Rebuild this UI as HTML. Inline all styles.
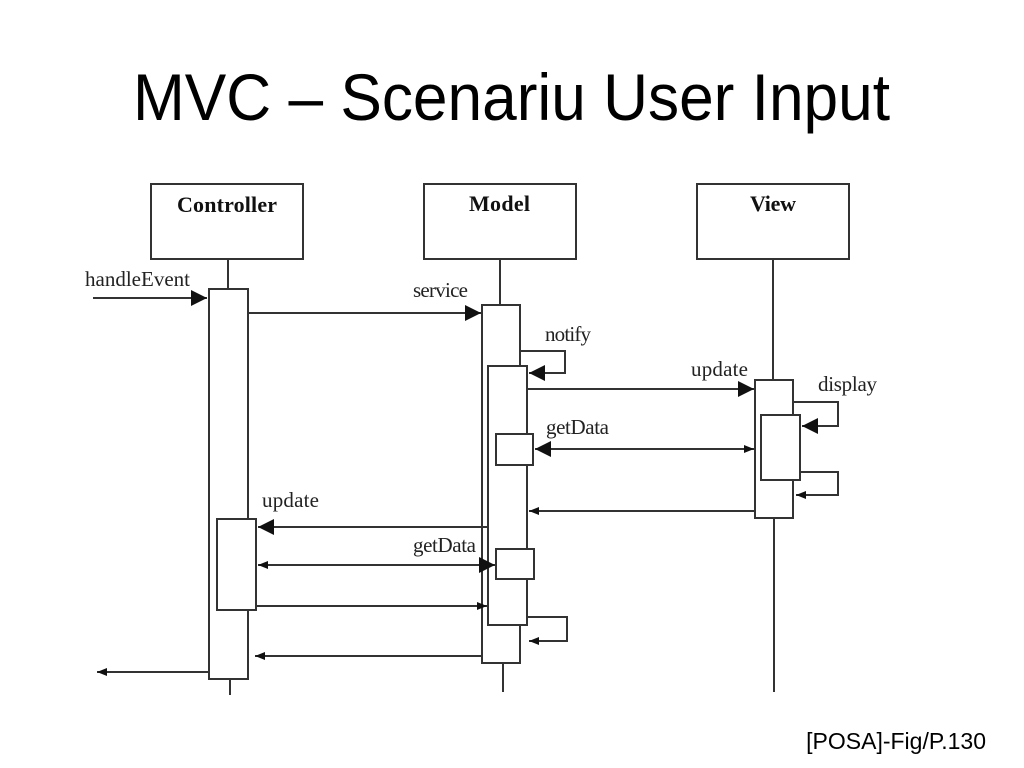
<!DOCTYPE html>
<html><head><meta charset="utf-8"><style>
html,body{margin:0;padding:0;background:#fff;}
svg{display:block;}
</style></head><body>
<svg width="1024" height="768" viewBox="0 0 1024 768" xmlns="http://www.w3.org/2000/svg">
<defs>
<marker id="a" viewBox="0 0 10 10" refX="10" refY="5" markerWidth="10" markerHeight="10" markerUnits="userSpaceOnUse" orient="auto"><path d="M0,1 L10,5 L0,9 z" fill="#111"/></marker>
<marker id="b" viewBox="0 0 10 10" refX="10" refY="5" markerWidth="20" markerHeight="16" markerUnits="userSpaceOnUse" orient="auto"><path d="M0,0 L10,5 L0,10 z" fill="#111"/></marker>
</defs>
<text x="133" y="120" font-family="Liberation Sans, Arial, sans-serif" font-size="66" textLength="757" lengthAdjust="spacingAndGlyphs">MVC – Scenariu User Input</text>
<text x="986" y="749" font-family="Liberation Sans, Arial, sans-serif" font-size="23" text-anchor="end">[POSA]-Fig/P.130</text>
<g fill="none" stroke="#333" stroke-width="2">
<rect x="151" y="184" width="152" height="75"/>
<rect x="424" y="184" width="152" height="75"/>
<rect x="697" y="184" width="152" height="75"/>
<line x1="228" y1="259" x2="228" y2="290"/>
<line x1="230" y1="680" x2="230" y2="695"/>
<line x1="500" y1="259" x2="500" y2="305"/>
<line x1="503" y1="663" x2="503" y2="692"/>
<line x1="773" y1="259" x2="773" y2="380"/>
<line x1="774" y1="518" x2="774" y2="692"/>
</g>
<g fill="#fff" stroke="#333" stroke-width="2">
<rect x="209" y="289" width="39" height="390"/>
<rect x="217" y="519" width="39" height="91"/>
<rect x="482" y="305" width="38" height="358"/>
<rect x="488" y="366" width="39" height="259"/>
<rect x="496" y="434" width="37" height="31"/>
<rect x="496" y="549" width="38" height="30"/>
<rect x="755" y="380" width="38" height="138"/>
<rect x="761" y="415" width="39" height="65"/>
</g>
<g font-family="Liberation Serif, serif" font-weight="bold" font-size="22" fill="#111" lengthAdjust="spacingAndGlyphs">
<text x="177" y="212" textLength="100">Controller</text>
<text x="469" y="211" textLength="61">Model</text>
<text x="750" y="211" textLength="46">View</text>
</g>
<g font-family="Liberation Serif, serif" font-size="21" fill="#222" lengthAdjust="spacingAndGlyphs">
<text x="85" y="286" textLength="105">handleEvent</text>
<text x="413" y="297" textLength="55">service</text>
<text x="545" y="341" textLength="46">notify</text>
<text x="691" y="376" textLength="57">update</text>
<text x="818" y="391" textLength="59">display</text>
<text x="546" y="434" textLength="63">getData</text>
<text x="262" y="507" textLength="57">update</text>
<text x="413" y="552" textLength="63">getData</text>
</g>
<g fill="none" stroke="#333" stroke-width="2">
<line x1="93" y1="298" x2="207" y2="298" marker-end="url(#b)"/>
<line x1="248" y1="313" x2="481" y2="313" marker-end="url(#b)"/>
<polyline points="520,351 565,351 565,373 529,373" marker-end="url(#b)"/>
<line x1="527" y1="389" x2="754" y2="389" marker-end="url(#b)"/>
<polyline points="793,402 838,402 838,426 802,426" marker-end="url(#b)"/>
<polyline points="800,472 838,472 838,495 796,495" marker-end="url(#a)"/>
<line x1="600" y1="449" x2="535" y2="449" marker-end="url(#b)"/>
<line x1="590" y1="449" x2="754" y2="449" marker-end="url(#a)"/>
<line x1="755" y1="511" x2="529" y2="511" marker-end="url(#a)"/>
<line x1="488" y1="527" x2="258" y2="527" marker-end="url(#b)"/>
<line x1="350" y1="565" x2="258" y2="565" marker-end="url(#a)"/>
<line x1="340" y1="565" x2="495" y2="565" marker-end="url(#b)"/>
<line x1="256" y1="606" x2="487" y2="606" marker-end="url(#a)"/>
<polyline points="527,617 567,617 567,641 529,641" marker-end="url(#a)"/>
<line x1="482" y1="656" x2="255" y2="656" marker-end="url(#a)"/>
<line x1="209" y1="672" x2="97" y2="672" marker-end="url(#a)"/>
</g>
</svg>
</body></html>
